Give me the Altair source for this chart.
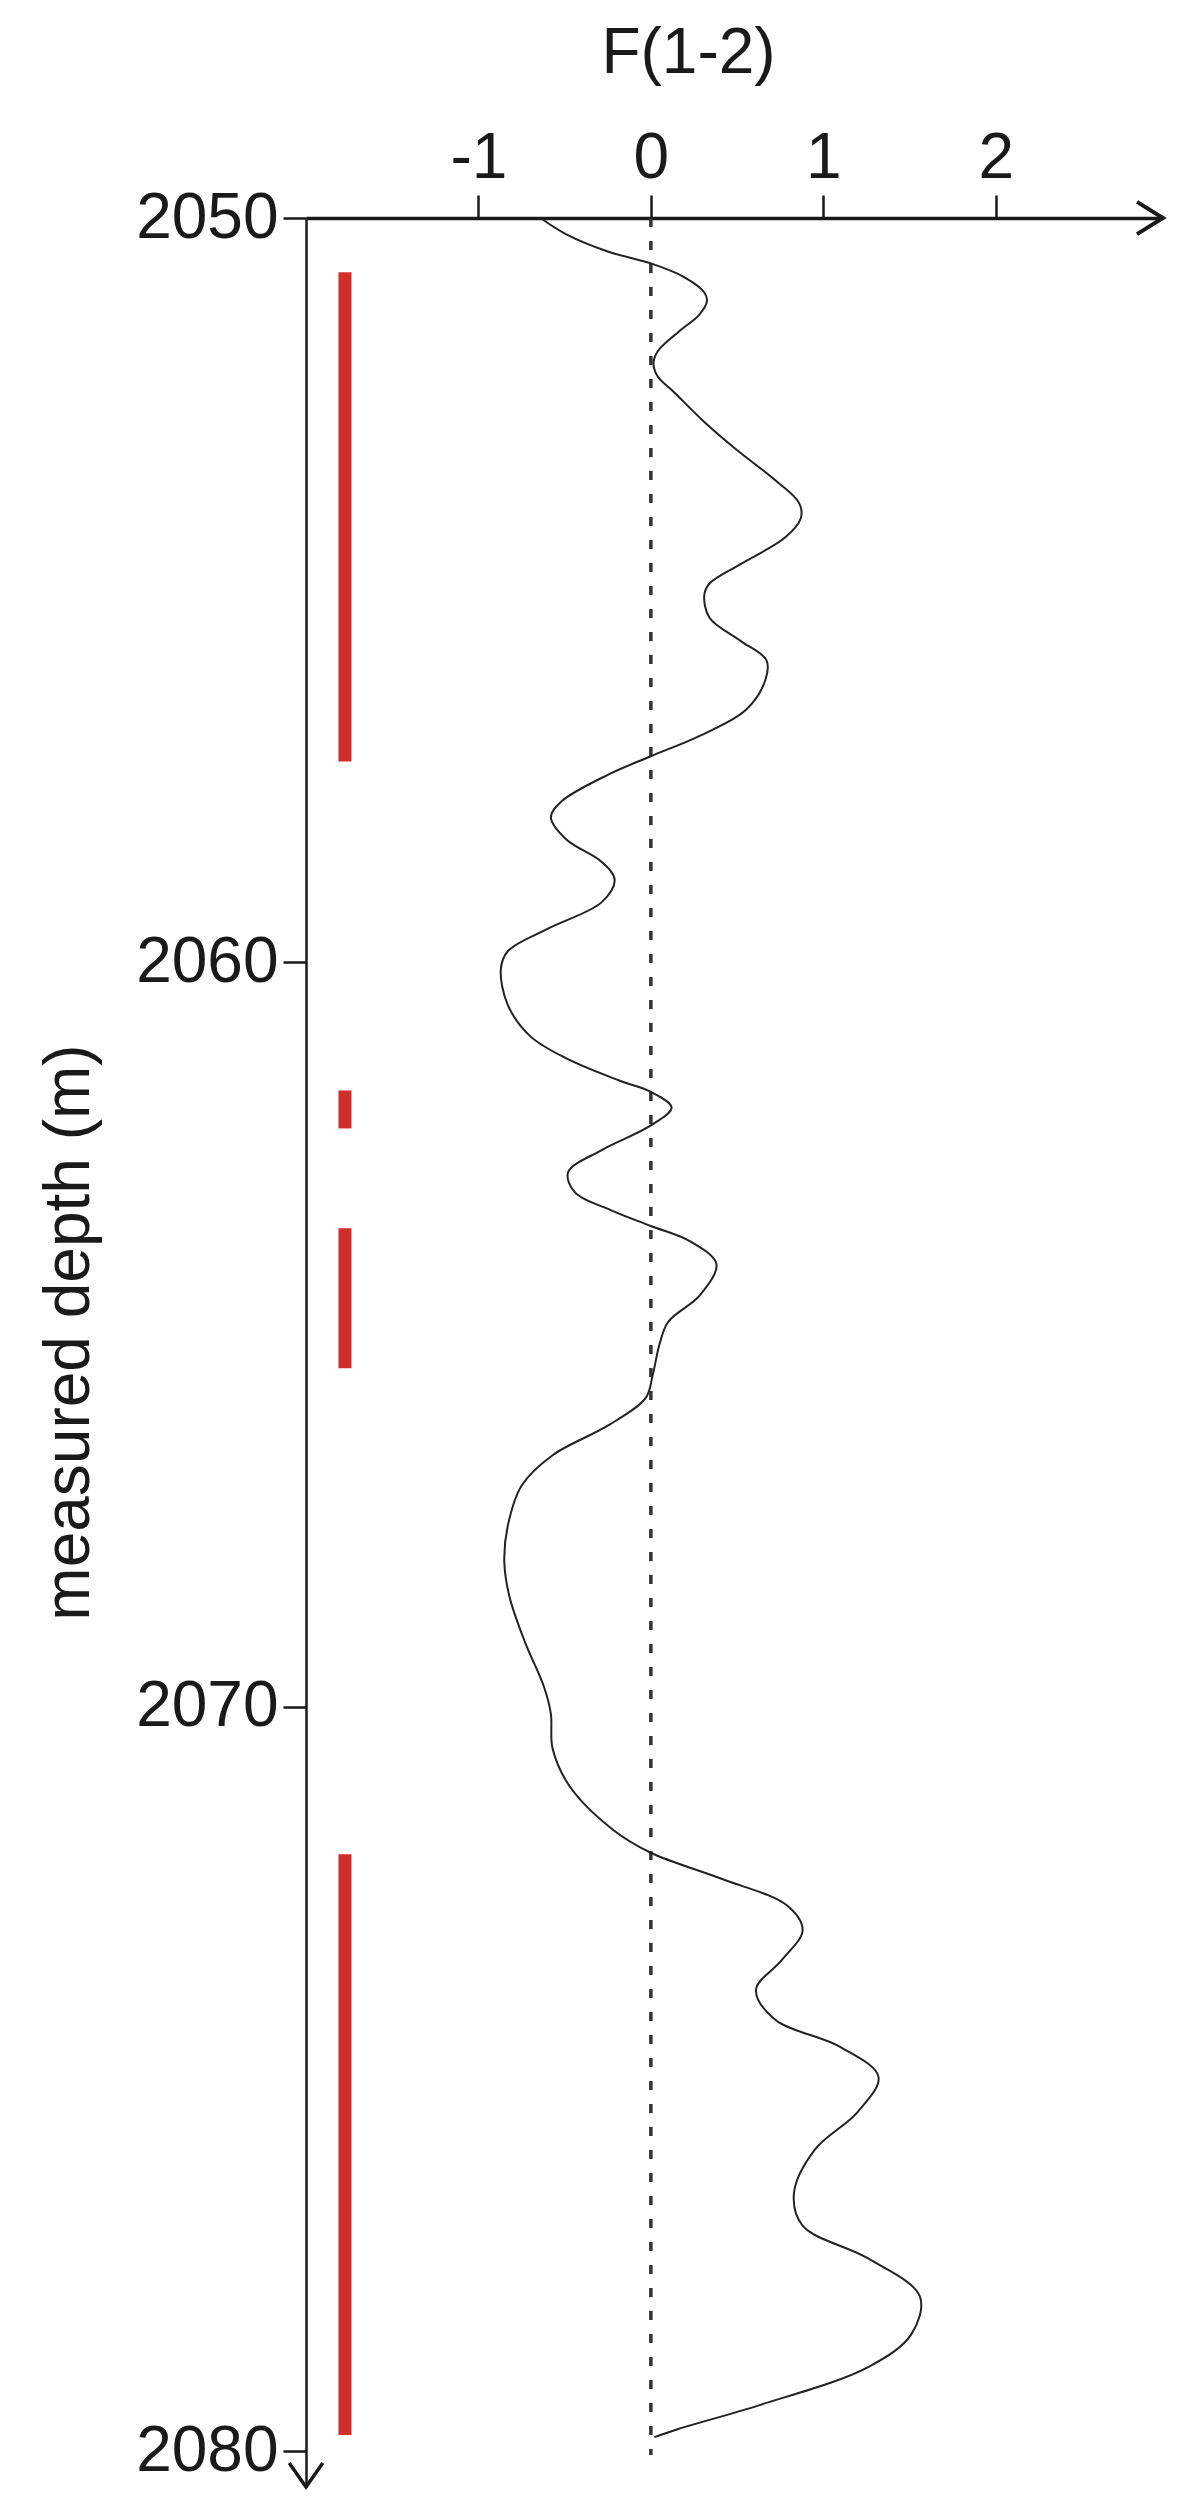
import altair as alt
import pandas as pd

# ---- data ----
depth = [2050.00, 2050.22, 2050.45, 2050.61, 2050.79, 2051.00, 2051.12, 2051.30, 2051.53,
         2051.79, 2051.95, 2052.13, 2052.33, 2052.74, 2053.10, 2053.52, 2053.83, 2054.03,
         2054.29, 2054.65, 2054.91, 2055.06, 2055.37, 2055.68, 2055.94, 2056.20, 2056.61,
         2056.96, 2057.23, 2057.48, 2057.84, 2058.05, 2058.35, 2058.65, 2058.89, 2059.19,
         2059.55, 2059.85, 2060.09, 2060.57, 2060.99, 2061.29, 2061.59, 2061.74, 2061.95,
         2062.19, 2062.52, 2062.82, 2063.09, 2063.33, 2063.54, 2063.75, 2064.05, 2064.47,
         2064.83, 2065.13, 2065.55, 2065.85, 2066.21, 2066.62, 2067.03, 2067.57, 2068.05,
         2068.52, 2069.13, 2069.73, 2070.09, 2070.56, 2071.07, 2071.65, 2071.96, 2072.31,
         2072.67, 2073.00, 2073.40, 2073.80, 2074.20, 2074.57, 2074.97, 2075.44, 2075.95,
         2076.53, 2076.97, 2077.41, 2077.92, 2078.43, 2078.87, 2079.38, 2079.70, 2079.81]
f12 = [-0.64, -0.49, -0.25, 0.00, 0.19, 0.31, 0.325, 0.28, 0.16,
       0.04, 0.015, 0.04, 0.13, 0.31, 0.49, 0.72, 0.86, 0.87,
       0.78, 0.52, 0.34, 0.31, 0.34, 0.52, 0.67, 0.665, 0.55,
       0.28, 0.00, -0.25, -0.52, -0.58, -0.49, -0.285, -0.21, -0.285,
       -0.60, -0.83, -0.87, -0.83, -0.70, -0.49, -0.18, 0.00, 0.12,
       0.00, -0.285, -0.48, -0.44, -0.23, 0.00, 0.23, 0.38, 0.285,
       0.10, 0.05, 0.01, -0.03, -0.24, -0.57, -0.75, -0.83, -0.85,
       -0.82, -0.73, -0.62, -0.58, -0.57, -0.47, -0.22, 0.00, 0.41,
       0.79, 0.88, 0.76, 0.61, 0.72, 1.10, 1.32, 1.20, 0.95,
       0.83, 0.88, 1.26, 1.56, 1.51, 1.26, 0.63, 0.16, 0.02]

bar_start = [2050.73, 2061.72, 2063.57, 2071.98]
bar_end = [2057.30, 2062.23, 2065.45, 2079.78]
bar_pos = -1.774

x_ticks = [-1, 0, 1, 2]
y_ticks = [2050, 2060, 2070, 2080]
x_min, x_max = -2.0, 2.97
d_top, d_bottom = 2050.0, 2080.48
zero_line_end = 2080.05

FONT = "Liberation Sans"

curve = pd.DataFrame({"depth": depth, "f": f12})
bars = pd.DataFrame({"x": [bar_pos] * len(bar_start), "y": bar_start, "y2": bar_end})
zero = pd.DataFrame({"x": [0.0], "y": [d_top], "y2": [zero_line_end]})
arrow_x = pd.DataFrame({"x": [x_max], "y": [d_top]})
arrow_y = pd.DataFrame({"x": [x_min], "y": [d_bottom]})

xscale = alt.Scale(domain=[x_min, x_max], nice=False, zero=False)
yscale = alt.Scale(domain=[d_top, d_bottom], reverse=True, nice=False, zero=False)

xaxis = alt.Axis(
    orient="top", values=x_ticks, grid=False, title="F(1-2)",
    labelExpr="'' + datum.value",
    labelFont=FONT, labelFontSize=64, labelColor="#1a1a1a", labelPadding=5,
    tickSize=23, tickWidth=2.5, tickColor="#1a1a1a",
    domainWidth=3.5, domainColor="#1a1a1a",
    titleFont=FONT, titleFontSize=64, titleFontWeight="normal", titleColor="#1a1a1a",
    titleX=382, titleY=-146, titleBaseline="alphabetic", titleAlign="center",
)
yaxis = alt.Axis(
    orient="left", values=y_ticks, grid=False, format="d", title="measured depth (m)",
    labelFont=FONT, labelFontSize=64, labelColor="#1a1a1a", labelPadding=5,
    tickSize=23, tickWidth=2.5, tickColor="#1a1a1a",
    domainWidth=2.5, domainColor="#1a1a1a",
    titleFont=FONT, titleFontSize=64, titleFontWeight="normal", titleColor="#1a1a1a",
    titleAngle=270, titleX=-218, titleY=1114, titleBaseline="alphabetic", titleAlign="center",
)

line = alt.Chart(curve).mark_line(
    interpolate="catmull-rom", color="#222222", strokeWidth=2
).encode(
    x=alt.X("f:Q", scale=xscale, axis=xaxis),
    y=alt.Y("depth:Q", scale=yscale, axis=yaxis),
    order="depth:Q",
)

zero_rule = alt.Chart(zero).mark_rule(
    color="#333333", strokeWidth=3.5, strokeDash=[9, 14]
).encode(
    x=alt.X("x:Q", scale=xscale), y=alt.Y("y:Q", scale=yscale), y2="y2:Q"
)

red = alt.Chart(bars).mark_rule(
    color="#d32f2a", strokeWidth=13, strokeCap="butt"
).encode(
    x=alt.X("x:Q", scale=xscale), y=alt.Y("y:Q", scale=yscale), y2="y2:Q"
)

head_x = alt.Chart(arrow_x).mark_point(
    shape="M-1,-0.62L0,0L-1,0.62", size=2704, filled=False, color="#1a1a1a",
    strokeWidth=4, opacity=1
).encode(x=alt.X("x:Q", scale=xscale), y=alt.Y("y:Q", scale=yscale))

head_y = alt.Chart(arrow_y).mark_point(
    shape="M-0.7,-1L0,0L0.7,-1", size=2304, filled=False, color="#1a1a1a",
    strokeWidth=3.5, opacity=1
).encode(x=alt.X("x:Q", scale=xscale), y=alt.Y("y:Q", scale=yscale))

chart = alt.layer(red, zero_rule, line, head_x, head_y).properties(
    width=857, height=2269,
    autosize=alt.AutoSizeParams(type="none"),
    padding={"left": 298, "top": 210, "right": 12, "bottom": 14},
).configure_view(stroke=None)

chart.save("out.html", embed_options={"renderer": "svg", "actions": False})
